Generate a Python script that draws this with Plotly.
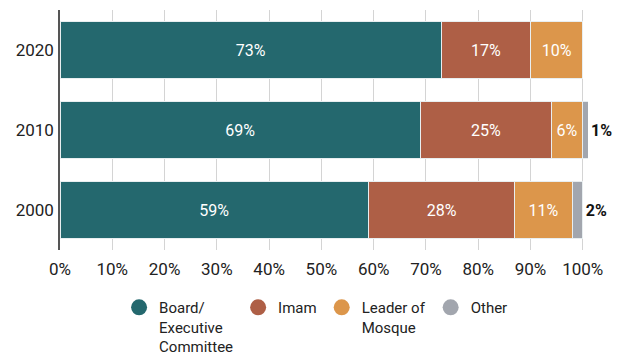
import plotly.graph_objects as go

years = ["2020", "2010", "2000"]
board = [73, 69, 59]
imam = [17, 25, 28]
leader = [10, 6, 11]
other = [None, 1, 2]

series = [
    ("Board/<br>Executive<br>Committee", board, "#24686e"),
    ("Imam", imam, "#ae5f46"),
    ("Leader of<br>Mosque", leader, "#dc964b"),
    ("Other", other, "#a2a6ae"),
]

FONT = "Roboto, Liberation Sans, Arial, sans-serif"
INK = "#222222"

fig = go.Figure()
for name, vals, color in series:
    is_other = name == "Other"
    fig.add_trace(go.Bar(
        y=years, x=vals, orientation="h", name=name,
        marker=dict(color=color, line=dict(color="#e8eef0", width=1)),
        text=[f"{v}%" if v is not None else "" for v in vals],
        textposition="outside" if is_other else "inside",
        insidetextanchor="middle",
        textfont=dict(family=FONT, size=16,
                      color="#111111" if is_other else "white",
                      weight="bold" if is_other else "normal"),
        cliponaxis=False,
        showlegend=False,
        hoverinfo="skip",
    ))
    # circular legend marker
    fig.add_trace(go.Scatter(
        x=[None], y=[None], mode="markers", name=name,
        marker=dict(symbol="circle", size=22, color=color),
        showlegend=True,
    ))

fig.update_layout(
    width=618, height=355,
    margin=dict(l=60, r=30, t=10, b=105, autoexpand=False),
    barmode="stack", bargap=0.28,
    plot_bgcolor="white", paper_bgcolor="white",
    font=dict(family=FONT, size=16, color=INK),
    uniformtext=dict(mode="show", minsize=10),
    legend=dict(
        orientation="h", x=0.485, xanchor="center",
        yref="container", y=0.18, yanchor="top",
        valign="top", traceorder="normal",
        font=dict(family=FONT, size=15, color=INK),
        itemsizing="trace", itemwidth=30,
    ),
)
fig.update_xaxes(
    range=[0, 101], tickvals=list(range(0, 101, 10)),
    ticktext=[f"{v}%" for v in range(0, 101, 10)],
    showgrid=True, gridcolor="#d4d4d4", gridwidth=1,
    zeroline=False, showline=False,
    ticks="outside", ticklen=4, tickcolor="rgba(0,0,0,0)",
    tickfont=dict(family=FONT, size=17, color=INK),
)
fig.update_yaxes(
    categoryorder="array", categoryarray=years[::-1],
    showline=True, linecolor="#555555", linewidth=1.5,
    showgrid=False, ticks="outside", ticklen=1, tickcolor="rgba(0,0,0,0)",
    tickfont=dict(family=FONT, size=17, color=INK),
)

fig.write_html("out.html")
